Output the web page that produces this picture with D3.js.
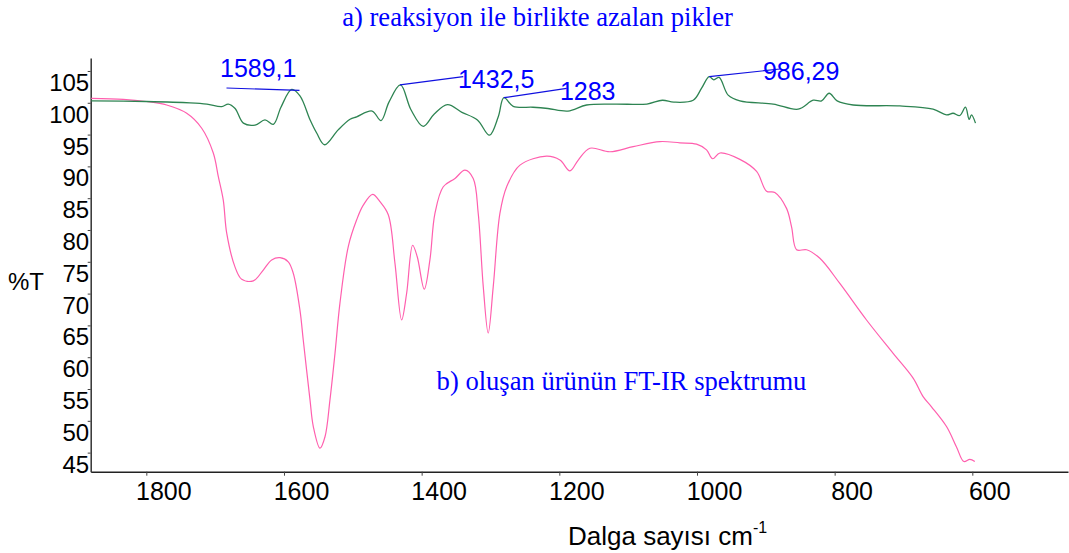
<!DOCTYPE html>
<html>
<head>
<meta charset="utf-8">
<script src="https://cdn.jsdelivr.net/npm/d3@7"></script>
<style>
  html, body { margin: 0; padding: 0; background: #fff; }
  svg { display: block; }
</style>
</head>
<body>
<svg id="chart" width="1069" height="553"></svg>
<script>
// Spectrum a) — peaks that decrease during the reaction (wavenumber, %T)
const wavenumbersA = [1880, 1800, 1736.5, 1712, 1690.5, 1681, 1671, 1659, 1642, 1627.6, 1615.5, 1604.4,
  1588.8, 1576.8, 1562, 1552.5, 1541, 1521.6, 1504, 1494.4, 1472, 1459, 1447.5, 1430.8, 1415.5,
  1397.7, 1382, 1362.5, 1341.5, 1319, 1301.4, 1288.7, 1280.5, 1267, 1238.3, 1216.6, 1187.5, 1160.4,
  1119, 1072.8, 1050.3, 1033.6, 1005.5, 993.3, 982.3, 975.5, 967.8, 954.7, 937.7, 889.3, 853,
  831.2, 819, 808, 796.4, 773.1, 705.3, 657, 637.5, 628, 618.2, 610, 604.6, 601.2, 595.4];
const transmittanceA = [100.3, 100.2, 100.0, 99.8, 99.4, 99.8, 99.1, 96.8, 96.5, 97.3, 96.6, 99.3,
  102.1, 101.1, 97.3, 95.25, 93.4, 95.7, 97.4, 97.8, 98.7, 97.2, 100.1, 102.8, 98.9,
  96.3, 98.2, 99.7, 98.5, 97.3, 94.9, 97.8, 100.8, 99.45, 99.3, 99.1, 98.7, 99.65,
  99.8, 99.8, 100.4, 100.1, 100.4, 102.3, 104.1, 103.6, 104.0, 101.2, 100.3, 99.8, 99.0,
  100.4, 100.3, 101.5, 100.3, 99.65, 99.5, 99.0, 98.1, 98.35, 98.0, 99.3, 97.4, 98.1, 96.8];

// Spectrum b) — FT-IR spectrum of the product (wavenumber, %T)
const wavenumbersB = [1880, 1833.4, 1800, 1770.4, 1741.3, 1719.5, 1702.7, 1695.4, 1688.2, 1683.2,
  1671.2, 1661.4, 1644.6, 1630.1, 1617.9, 1605.8, 1593.8, 1586.5, 1576.8, 1572, 1562.2, 1557.4,
  1547.7, 1540.4, 1533.2, 1525.9, 1518.7, 1506.6, 1494.4, 1484.8, 1471.2, 1460.6, 1448.5, 1438.8,
  1429.1, 1421.8, 1413.1, 1406.4, 1396.2, 1388, 1380.7, 1368.6, 1351.6, 1337.1, 1325.1, 1317.8,
  1310.5, 1303.3, 1296, 1286.3, 1276.5, 1257.2, 1218.5, 1199.1, 1184.6, 1172.5, 1155.6, 1126.5,
  1092.7, 1053.9, 1024.8, 1000.6, 986.1, 977.3, 966.7, 937.7, 913.4, 898.9, 886.9, 869.9, 862.6,
  855.3, 840.8, 821.5, 792.5, 753.7, 715, 686, 671.5, 659.3, 637.5, 623, 612.3, 603.6, 596.4];
const transmittanceB = [100.7, 100.55, 100.2, 99.65, 98.35, 96.0, 92.1, 88.4, 84.7, 79.5,
  74.2, 72.25, 72.0, 73.7, 75.3, 75.65, 75.0, 73.2, 67.4, 62.7, 53.3, 49.1,
  45.7, 47.5, 53.3, 60.6, 68.5, 77.4, 81.6, 83.9, 85.6, 84.45, 82.4, 74.8,
  65.85, 70.05, 77.6, 75.8, 70.7, 75.3, 82.6, 86.8, 88.1, 89.4, 88.1, 82.6,
  71.1, 63.8, 71.1, 82.6, 86.8, 90.2, 91.6, 91.0, 89.3, 91.0, 92.85, 92.3,
  93.1, 93.9, 93.7, 93.5, 92.6, 91.2, 92.1, 91.1, 89.2, 86.1, 85.9, 83.4, 80.5,
  76.9, 76.9, 75.55, 71.6, 65.85, 60.6, 56.7, 53.8, 52.2, 49.1, 45.9, 43.6, 43.95, 43.6];

// Marked peaks on spectrum a)
const peakLabels = ["1589,1", "1432,5", "1283", "986,29"];
const peakWavenumbers = [1589.1, 1432.5, 1283, 986.29];
const peakTransmittance = [102.1, 102.8, 100.8, 104.1];

// Axis ticks
const xTickValues = [1800, 1600, 1400, 1200, 1000, 800, 600];
const yTickValues = [45, 50, 55, 60, 65, 70, 75, 80, 85, 90, 95, 100, 105];

const svg = d3.select("#chart");
const blue = "#0000ff";

const x = d3.scaleLinear().domain([1880.8, 461]).range([90.7, 1068]);
const y = d3.scaleLinear().domain([42, 107.04]).range([471.7, 58]);

const axisFont = "'Liberation Sans', Arial, sans-serif";
const serifFont = "'Liberation Serif', 'Times New Roman', serif";

// Bottom axis
const gx = svg.append("g")
  .attr("transform", `translate(0,${y.range()[0]})`)
  .call(d3.axisBottom(x).tickValues(xTickValues).tickSize(4).tickSizeOuter(0).tickFormat(d3.format("d")));
gx.select(".domain").attr("stroke", "#222").attr("stroke-width", 1.5);
gx.selectAll(".tick line").attr("stroke", "#444").attr("stroke-width", 1);
gx.selectAll(".tick text")
  .attr("y", 28.3).attr("dy", 0).attr("dx", 17)
  .attr("fill", "#000")
  .style("font-family", axisFont).style("font-size", "25px");

// Left axis
const gy = svg.append("g")
  .attr("transform", `translate(${x.range()[0]},0)`)
  .call(d3.axisLeft(y).tickValues(yTickValues).tickSize(3).tickSizeOuter(0).tickFormat(d3.format("d")));
gy.select(".domain").attr("stroke", "#333").attr("stroke-width", 1.5);
gy.selectAll(".tick line").attr("stroke", "#444").attr("stroke-width", 1);
gy.selectAll(".tick text")
  .attr("x", -1.5).attr("dy", 0).attr("y", 19.5)
  .attr("fill", "#000")
  .style("font-family", axisFont).style("font-size", "24px");

// Spectra
const line = d3.line()
  .x(d => x(d[0]))
  .y(d => y(d[1]))
  .curve(d3.curveCatmullRom.alpha(0.5));

svg.append("path")
  .datum(d3.zip(wavenumbersB, transmittanceB))
  .attr("fill", "none")
  .attr("stroke", "#ff5fae")
  .attr("stroke-width", 1.2)
  .attr("d", line);

svg.append("path")
  .datum(d3.zip(wavenumbersA, transmittanceA))
  .attr("fill", "none")
  .attr("stroke", "#2e8452")
  .attr("stroke-width", 1.3)
  .attr("d", line);

// Peak leader lines and labels (offsets in px from the peak point)
const leaderOffsets = [[-65, -1.4, 8, 1], [0.7, 0, 64, -8.3], [1.7, 0, 64.4, -9.4], [2.8, 0, 73.5, -7.7]];
const labelOffsets = [[-71.5, -12.2], [58.7, 3], [57.7, 2.3], [56.5, 3.3]];

const peaks = svg.append("g");
peakLabels.forEach((lab, i) => {
  const px = x(peakWavenumbers[i]);
  const py = y(peakTransmittance[i]);
  const o = leaderOffsets[i];
  peaks.append("line")
    .attr("x1", px + o[0]).attr("y1", py + o[1])
    .attr("x2", px + o[2]).attr("y2", py + o[3])
    .attr("stroke", "#1010e0").attr("stroke-width", 1.2);
  peaks.append("text")
    .attr("x", px + labelOffsets[i][0]).attr("y", py + labelOffsets[i][1])
    .attr("fill", blue)
    .style("font-family", axisFont).style("font-size", "25px")
    .text(lab);
});

// Captions
svg.append("text")
  .attr("x", 537.5).attr("y", 26).attr("text-anchor", "middle")
  .attr("fill", blue)
  .style("font-family", serifFont).style("font-size", "26.6px")
  .text("a) reaksiyon ile birlikte azalan pikler");

svg.append("text")
  .attr("x", 621.5).attr("y", 390).attr("text-anchor", "middle")
  .attr("fill", blue)
  .style("font-family", serifFont).style("font-size", "26.6px")
  .text("b) oluşan ürünün FT-IR spektrumu");

// Axis titles
svg.append("text")
  .attr("x", 8).attr("y", 290)
  .attr("fill", "#000")
  .style("font-family", axisFont).style("font-size", "24px")
  .text("%T");

const xt = svg.append("text")
  .attr("x", 568).attr("y", 545)
  .attr("fill", "#000")
  .style("font-family", axisFont).style("font-size", "26px");
xt.append("tspan").text("Dalga sayısı cm");
xt.append("tspan").attr("dy", -12).style("font-size", "16px").text("-1");
</script>
</body>
</html>
